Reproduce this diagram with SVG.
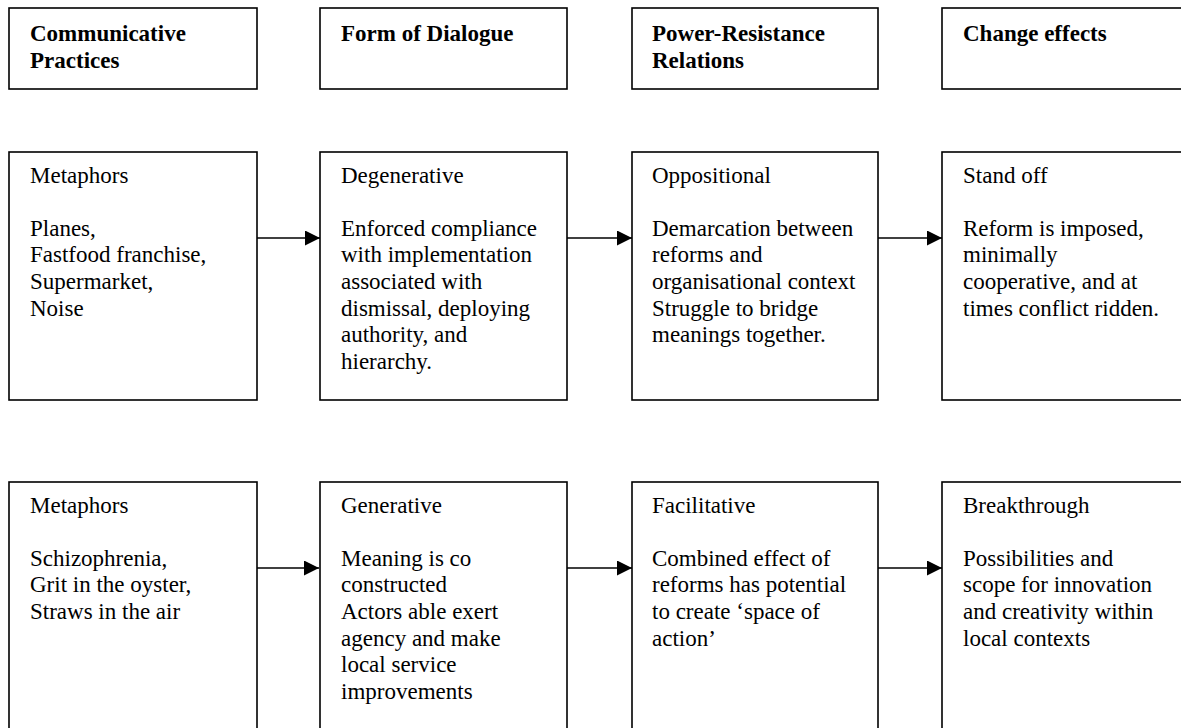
<svg xmlns="http://www.w3.org/2000/svg" width="1181" height="728" viewBox="0 0 1181 728">
<defs>
<style>
.box{fill:#fff;stroke:#000;stroke-width:1.6}
.t{font-family:'Liberation Serif','Times New Roman',Times,'DejaVu Serif',serif;font-size:23px;fill:#000}
.h{font-weight:bold}
.c{stroke:#000;stroke-width:1.4;fill:none}
</style>
<marker id="ah" markerUnits="userSpaceOnUse" markerWidth="15" markerHeight="15" refX="14" refY="7" orient="auto" viewBox="0 0 14 14">
<path d="M0,0 L14,7 L0,14 z" fill="#000"/>
</marker>
</defs>
<rect width="1181" height="728" fill="#fff"/>
<g font-family="Liberation Serif, Times New Roman, serif">
<g id="h1"><rect class="box" x="9" y="8" width="248" height="81"/>
<text class="t h" x="30" y="41"><tspan x="30">Communicative</tspan><tspan x="30" dy="26.6">Practices</tspan></text></g>
<g id="h2"><rect class="box" x="320" y="8" width="247" height="81"/>
<text class="t h" x="341" y="41">Form of Dialogue</text></g>
<g id="h3"><rect class="box" x="632" y="8" width="246" height="81"/>
<text class="t h" x="652" y="41"><tspan x="652">Power-Resistance</tspan><tspan x="652" dy="26.6">Relations</tspan></text></g>
<g id="h4"><rect class="box" x="942" y="8" width="260" height="81"/>
<text class="t h" x="963" y="41">Change effects</text></g>

<g id="r1c1"><rect class="box" x="9" y="152" width="248" height="248"/>
<text class="t" y="182.5"><tspan x="30">Metaphors</tspan><tspan x="30" dy="53.2">Planes,</tspan><tspan x="30" dy="26.6">Fastfood franchise,</tspan><tspan x="30" dy="26.6">Supermarket,</tspan><tspan x="30" dy="26.6">Noise</tspan></text></g>
<g id="r1c2"><rect class="box" x="320" y="152" width="247" height="248"/>
<text class="t" y="182.5"><tspan x="341">Degenerative</tspan><tspan x="341" dy="53.2">Enforced compliance</tspan><tspan x="341" dy="26.6">with implementation</tspan><tspan x="341" dy="26.6">associated with</tspan><tspan x="341" dy="26.6">dismissal, deploying</tspan><tspan x="341" dy="26.6">authority, and</tspan><tspan x="341" dy="26.6">hierarchy.</tspan></text></g>
<g id="r1c3"><rect class="box" x="632" y="152" width="246" height="248"/>
<text class="t" y="182.5"><tspan x="652">Oppositional</tspan><tspan x="652" dy="53.2">Demarcation between</tspan><tspan x="652" dy="26.6">reforms and</tspan><tspan x="652" dy="26.6">organisational context</tspan><tspan x="652" dy="26.6">Struggle to bridge</tspan><tspan x="652" dy="26.6">meanings together.</tspan></text></g>
<g id="r1c4"><rect class="box" x="942" y="152" width="260" height="248"/>
<text class="t" y="182.5"><tspan x="963">Stand off</tspan><tspan x="963" dy="53.2">Reform is imposed,</tspan><tspan x="963" dy="26.6">minimally</tspan><tspan x="963" dy="26.6">cooperative, and at</tspan><tspan x="963" dy="26.6">times conflict ridden.</tspan></text></g>

<g id="r2c1"><rect class="box" x="9" y="482" width="248" height="260"/>
<text class="t" y="512.5"><tspan x="30">Metaphors</tspan><tspan x="30" dy="53.2">Schizophrenia,</tspan><tspan x="30" dy="26.6">Grit in the oyster,</tspan><tspan x="30" dy="26.6">Straws in the air</tspan></text></g>
<g id="r2c2"><rect class="box" x="320" y="482" width="247" height="260"/>
<text class="t" y="512.5"><tspan x="341">Generative</tspan><tspan x="341" dy="53.2">Meaning is co</tspan><tspan x="341" dy="26.6">constructed</tspan><tspan x="341" dy="26.6">Actors able exert</tspan><tspan x="341" dy="26.6">agency and make</tspan><tspan x="341" dy="26.6">local service</tspan><tspan x="341" dy="26.6">improvements</tspan></text></g>
<g id="r2c3"><rect class="box" x="632" y="482" width="246" height="260"/>
<text class="t" y="512.5"><tspan x="652">Facilitative</tspan><tspan x="652" dy="53.2">Combined effect of</tspan><tspan x="652" dy="26.6">reforms has potential</tspan><tspan x="652" dy="26.6">to create ‘space of</tspan><tspan x="652" dy="26.6">action’</tspan></text></g>
<g id="r2c4"><rect class="box" x="942" y="482" width="260" height="260"/>
<text class="t" y="512.5"><tspan x="963">Breakthrough</tspan><tspan x="963" dy="53.2">Possibilities and</tspan><tspan x="963" dy="26.6">scope for innovation</tspan><tspan x="963" dy="26.6">and creativity within</tspan><tspan x="963" dy="26.6">local contexts</tspan></text></g>
</g>
<g id="connectors">
<line class="c" x1="257" y1="238" x2="320" y2="238" marker-end="url(#ah)"/>
<line class="c" x1="567" y1="238" x2="632" y2="238" marker-end="url(#ah)"/>
<line class="c" x1="878" y1="238" x2="942" y2="238" marker-end="url(#ah)"/>
<line class="c" x1="257" y1="568" x2="319" y2="568" marker-end="url(#ah)"/>
<line class="c" x1="567" y1="568" x2="632" y2="568" marker-end="url(#ah)"/>
<line class="c" x1="878" y1="568" x2="942" y2="568" marker-end="url(#ah)"/>
</g>
</svg>
